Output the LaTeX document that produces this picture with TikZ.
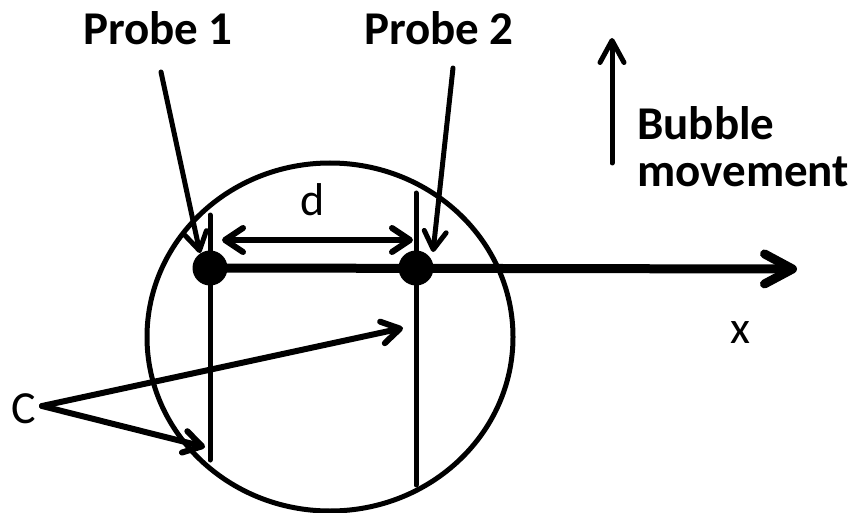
\documentclass[tikz,border=0pt]{standalone}
\usepackage{fontspec}
\setmainfont{Carlito}
\usetikzlibrary{arrows.meta}
\begin{document}
\begin{tikzpicture}[x=1pt,y=-1pt,
  lbl/.style={font=\fontsize{47}{47}\selectfont\bfseries, inner sep=0pt},
  txt/.style={font=\fontsize{46}{46}\selectfont, inner sep=0pt},
  dot/.style={circle, fill=black, minimum size=35pt, inner sep=0pt},
  wire/.style={line width=5pt, line cap=round},
  tipS/.style={-{Straight Barb[length=18pt,width=22pt,round]}},
  tipD/.style={{Straight Barb[length=18pt,width=24pt,round]}-{Straight Barb[length=18pt,width=24pt,round]}},
  tipX/.style={-{Straight Barb[length=28pt,width=30pt,round]}}
  ]
\useasboundingbox (0,0) rectangle (856,513);
\fill[white] (0,0) rectangle (856,513);
% bubble
\draw[line width=5pt] (330,337) ellipse [x radius=183pt, y radius=174pt];
% probes
\node[dot] (p1) at (210,268) {};
\node[dot] (p2) at (416,268) {};
\coordinate (p1top) at (210,215);
\coordinate (p1bot) at (210,460);
\coordinate (p2top) at (416,193);
\coordinate (p2bot) at (416,485);
\draw[wire] (p1top) -- (p1bot);
\draw[wire] (p2top) -- (p2bot);
% x axis
\coordinate (xend) at (797,269);
\draw[line width=9pt, tipX] (p1.center) -- (xend);
\node[txt, anchor=base] (xl) at (740,343) {x};
% distance d
\coordinate (dl) at (222,240);
\coordinate (dr) at (413,240);
\draw[line width=6pt, line cap=round, tipD] (dl) -- (dr);
\node[txt, anchor=base] (dlab) at (313,215) {d};
% probe labels
\node[lbl, anchor=base] (lab1) at (158,45) {Probe 1};
\node[lbl, anchor=base] (lab2) at (439,45) {Probe 2};
\coordinate (a1s) at (161,72);
\coordinate (a1t) at (200,253);
\coordinate (a2s) at (453,68);
\coordinate (a2t) at (433,252);
\draw[wire, tipS] (a1s) -- (a1t);
\draw[wire, tipS] (a2s) -- (a2t);
% bubble movement
\coordinate (bs) at (612,163);
\coordinate (bt) at (612,38);
\draw[wire, -{Straight Barb[length=22pt,width=24pt,round]}] (bs) -- (bt);
\node[lbl, anchor=base west] (bub1) at (637,140) {Bubble};
\node[lbl, anchor=base west] (bub2) at (637,186) {movement};
% C
\node[txt] (C) at (24,409) {C};
\coordinate (cv) at (42,406);
\coordinate (c1) at (403,328);
\coordinate (c2) at (205,447);
\draw[line width=6pt, line cap=round, tipS] (cv) -- (c1);
\draw[line width=6pt, line cap=round, tipS] (cv) -- (c2);
\end{tikzpicture}
\end{document}
